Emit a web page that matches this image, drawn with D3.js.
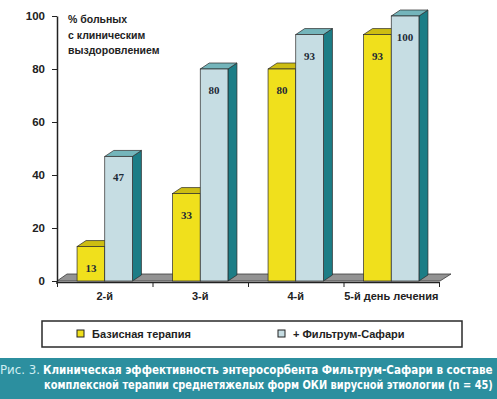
<!DOCTYPE html>
<html>
<head>
<meta charset="utf-8">
<script src="https://cdn.jsdelivr.net/npm/d3@7"></script>
<style>
  body { margin: 0; background: #fff; }
  svg { display: block; }
</style>
</head>
<body>
<svg id="chart" width="497" height="399"></svg>
<script>
// data
var categories = ["2-й", "3-й", "4-й", "5-й день лечения"];
var seriesNames = ["Базисная терапия", "+ Фильтрум-Сафари"];
var basicValues = [13, 33, 80, 93];
var filtrumValues = [47, 80, 93, 100];
var yTicks = [0, 20, 40, 60, 80, 100];
var titleLines = ["% больных", "с клиническим", "выздоровлением"];
var captionLines = [
    "Клиническая эффективность энтеросорбента Фильтрум-Сафари в составе",
    "комплексной терапии среднетяжелых форм ОКИ вирусной этиологии (n = 45)"
];

var dimensions = {
    width: 497,
    height: 399,
    left: 57,
    right: 439,
    top: 16,
    bottom: 281
};
var depth = { dx: 9, dy: -6 };

var palette = {
    front: ["#f0e01c", "#c6dde3"],
    top: ["#cdbd12", "#74b5bb"],
    side: ["#b8a810", "#1c7d86"]
};

var svg = d3.select("#chart");

var y = d3.scaleLinear()
    .domain([0, 100])
    .range([dimensions.bottom, dimensions.top]);

var x0 = d3.scaleBand()
    .domain(categories)
    .range([dimensions.left, dimensions.right])
    .padding(0);

var x1 = d3.scaleBand()
    .domain(seriesNames)
    .range([x0.bandwidth() * 0.21, x0.bandwidth() * 0.79])
    .padding(0);

var sans = "'Liberation Sans', Arial, sans-serif";
var narrow = "'Liberation Sans Narrow', 'DejaVu Sans Condensed', sans-serif";

// floor
var fl = dimensions.left, fr = dimensions.right + 1, fb = dimensions.bottom;
svg.append("path")
    .attr("d", `M${fl},${fb} L${fr},${fb} L${fr + depth.dx + 2},${fb + depth.dy - 1} L${fl + depth.dx + 1},${fb + depth.dy - 1} Z`)
    .attr("fill", "#939393")
    .attr("stroke", "#3a3a3a")
    .attr("stroke-width", 0.8);

// axes
svg.append("g")
    .attr("transform", `translate(${dimensions.left}, 0)`)
    .call(d3.axisLeft(y).tickValues(yTicks).tickSize(5).tickSizeOuter(0).tickPadding(7))
    .call(g => g.select(".domain").attr("stroke", "#222").attr("stroke-width", 1.5))
    .call(g => g.selectAll(".tick line").attr("stroke", "#222"))
    .call(g => g.selectAll(".tick text")
        .attr("font-family", sans)
        .attr("font-weight", "bold")
        .attr("font-size", "11.5px")
        .attr("fill", "#222"));

svg.append("line")
    .attr("x1", dimensions.left).attr("x2", dimensions.left)
    .attr("y1", dimensions.bottom).attr("y2", dimensions.bottom + 3)
    .attr("stroke", "#222").attr("stroke-width", 1.5);

var xb = d3.scaleLinear()
    .domain([0, categories.length])
    .range([dimensions.left, dimensions.right]);

svg.append("g")
    .attr("transform", `translate(0, ${dimensions.bottom + 1})`)
    .call(d3.axisBottom(xb).tickValues(d3.range(categories.length + 1)).tickFormat("").tickSize(5).tickSizeOuter(0))
    .call(g => g.select(".domain").attr("stroke", "#222").attr("stroke-width", 1.5))
    .call(g => g.selectAll(".tick line").attr("stroke", "#222"));

// bars
var tableData = categories.map((c, i) => ({
    category: c,
    values: [basicValues[i], filtrumValues[i]]
}));

var groups = svg.selectAll(".group")
    .data(tableData)
    .enter()
    .append("g")
    .attr("class", "group")
    .attr("transform", d => `translate(${x0(d.category)}, 0)`);

seriesNames.forEach(function (s, si) {
    var w = x1.bandwidth();
    groups.each(function (d) {
        var g = d3.select(this);
        var bx = x1(s), by = y(d.values[si]), b0 = y(0);
        // side
        g.append("path")
            .attr("d", `M${bx + w},${by} L${bx + w + depth.dx},${by + depth.dy} L${bx + w + depth.dx},${b0 + depth.dy} L${bx + w},${b0} Z`)
            .attr("fill", palette.side[si])
            .attr("stroke", "#2a2a2a").attr("stroke-width", 0.7);
        // top
        g.append("path")
            .attr("d", `M${bx},${by} L${bx + w},${by} L${bx + w + depth.dx},${by + depth.dy} L${bx + depth.dx},${by + depth.dy} Z`)
            .attr("fill", palette.top[si])
            .attr("stroke", "#2a2a2a").attr("stroke-width", 0.7);
        // front
        g.append("rect")
            .attr("x", bx)
            .attr("y", by)
            .attr("width", w)
            .attr("height", b0 - by)
            .attr("fill", palette.front[si])
            .attr("stroke", "#2a2a2a").attr("stroke-width", 0.7);
        // value
        g.append("text")
            .attr("x", bx + w / 2)
            .attr("y", by + 25)
            .attr("text-anchor", "middle")
            .attr("font-family", "'Liberation Serif', 'Times New Roman', serif")
            .attr("font-weight", "bold")
            .attr("font-size", "11px")
            .attr("fill", "#1d2a36")
            .text(d.values[si]);
    });
});

// category labels
svg.selectAll(".cat")
    .data(categories)
    .enter()
    .append("text")
    .attr("class", "cat")
    .attr("x", d => x0(d) + x1.range()[0] + (x1.range()[1] - x1.range()[0]) / 2)
    .attr("y", 300)
    .attr("text-anchor", "middle")
    .attr("font-family", sans)
    .attr("font-weight", "bold")
    .attr("font-size", "11px")
    .attr("fill", "#222")
    .text(d => d);

// y title
svg.append("g")
    .selectAll("text")
    .data(titleLines)
    .enter()
    .append("text")
    .attr("x", 68)
    .attr("y", (d, i) => 23 + i * 15.5)
    .attr("font-family", sans)
    .attr("font-weight", "bold")
    .attr("font-size", "10.5px")
    .attr("fill", "#222")
    .text(d => d);

// legend
svg.append("rect")
    .attr("x", 42).attr("y", 321)
    .attr("width", 420).attr("height", 26)
    .attr("fill", "#fff")
    .attr("stroke", "#2a2a2a")
    .attr("stroke-width", 1.5);

var legendX = [77, 278];
var legend = svg.selectAll(".legend")
    .data(seriesNames)
    .enter()
    .append("g")
    .attr("class", "legend")
    .attr("transform", (d, i) => `translate(${legendX[i]}, 330)`);

legend.append("rect")
    .attr("width", 7).attr("height", 7)
    .attr("fill", (d, i) => palette.front[i])
    .attr("stroke", "#222").attr("stroke-width", 1);

legend.append("text")
    .attr("x", 15)
    .attr("y", 7.5)
    .attr("font-family", sans)
    .attr("font-weight", "bold")
    .attr("font-size", "11px")
    .attr("fill", "#222")
    .text(d => d);

// caption
svg.append("rect")
    .attr("x", 0).attr("y", 358)
    .attr("width", dimensions.width).attr("height", dimensions.height - 358)
    .attr("fill", "#2c8f9f");

// squeeze a text horizontally so it spans exactly `target` px
function fitText(sel, x, yPos, target) {
    sel.each(function () {
        var natural = this.getComputedTextLength();
        var k = target / natural;
        d3.select(this)
            .attr("x", 0).attr("y", 0)
            .attr("transform", `translate(${x}, ${yPos}) scale(${k}, 1)`);
    });
}

svg.append("text")
    .attr("font-family", narrow)
    .attr("font-size", "12.5px")
    .attr("fill", "#cfeef2")
    .text("Рис. 3.")
    .call(fitText, 0, 374, 40);

svg.selectAll(".caption")
    .data(captionLines)
    .enter()
    .append("text")
    .attr("class", "caption")
    .attr("font-family", narrow)
    .attr("font-weight", "bold")
    .attr("font-size", "12px")
    .attr("fill", "#ffffff")
    .text(d => d)
    .each(function (d, i) {
        d3.select(this).call(fitText, i === 0 ? 43 : 44, 374 + i * 15, i === 0 ? 450 : 449);
    });
</script>
</body>
</html>
